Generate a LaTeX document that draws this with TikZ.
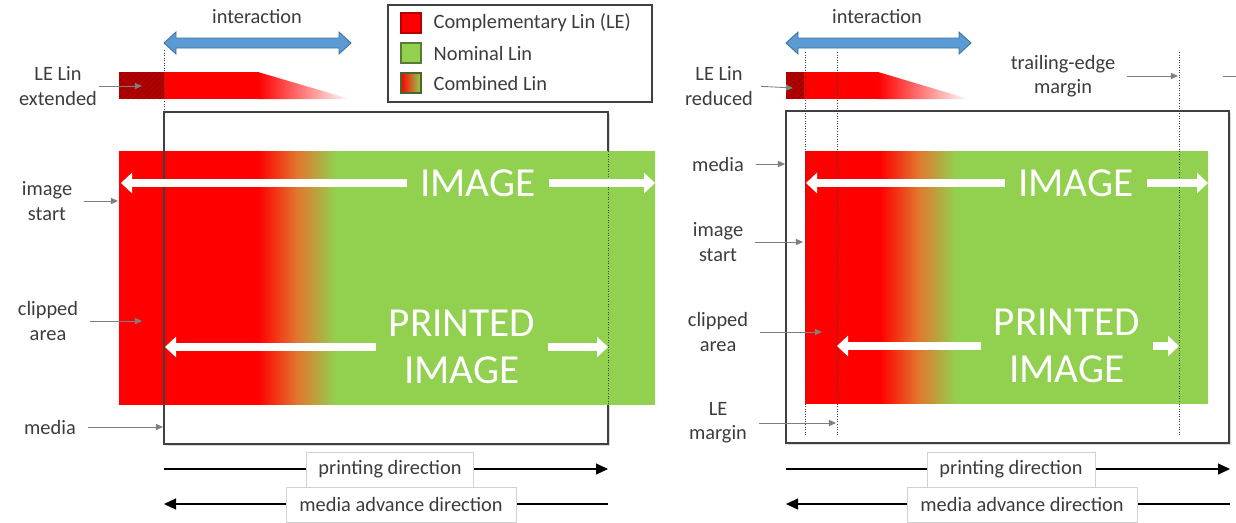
\documentclass[tikz,border=0pt]{standalone}
\usepackage{fontspec}
\setmainfont{Carlito}
\usepackage{xcolor}
\usetikzlibrary{arrows.meta,positioning,patterns,shadows}
\definecolor{imggreen}{RGB}{146,208,80}
\definecolor{midorange}{RGB}{226,118,46}
\definecolor{darkred}{RGB}{180,0,0}
\definecolor{intblue}{RGB}{91,155,213}
\definecolor{intborder}{RGB}{65,113,156}
\definecolor{txtgray}{RGB}{60,60,60}
\definecolor{arrgray}{RGB}{127,127,127}
\definecolor{boxgray}{RGB}{64,64,64}
\definecolor{lightbox}{RGB}{210,210,210}
\newcommand\lblfont{\fontsize{11.6}{13.8}\selectfont}
\newcommand\bigtextfont{\fontsize{23.5}{26.5}\selectfont}
% combined linearization across the image, one shading per panel
\pgfdeclarehorizontalshading{imgextended}{100bp}{color(0bp)=(red); color(37.97bp)=(red); color(41.6bp)=(midorange); color(45.19bp)=(imggreen); color(100bp)=(imggreen)}
\pgfdeclarehorizontalshading{imgreduced}{100bp}{color(0bp)=(red); color(34.31bp)=(red); color(39.02bp)=(midorange); color(43.67bp)=(imggreen); color(100bp)=(imggreen)}
\tikzset{%
	lbl/.style      = {text=txtgray, font=\lblfont, align=center, inner sep=1pt},
	lblarrow/.style = {draw=arrgray, line width=0.5pt, -{Triangle[length=4pt,width=3.5pt]}, shorten <=0.2cm},
	medbox/.style   = {draw=boxgray, line width=0.9pt, fill=white, drop shadow={shadow xshift=0.04cm, shadow yshift=-0.04cm, opacity=0.3}},
	intarrow/.style = {fill=intblue, draw=intborder, line width=0.5pt, line join=miter},
	wharrow/.style  = {white, line width=0.17cm, -{Triangle[length=0.22cm,width=0.4cm]}},
	bigtxt/.style   = {text=white, font=\bigtextfont, align=center, inner xsep=0.25cm, inner ysep=0pt},
	dirbox/.style   = {draw=lightbox, fill=white, text=txtgray, font=\lblfont, minimum height=0.7cm, line width=0.5pt},
	dirarrow/.style = {black, line width=0.6pt, -{Triangle[length=0.24cm,width=0.22cm]}},
	margin/.style   = {draw=boxgray, densely dotted, line width=0.45pt},
	legsq/.style    = {minimum size=0.4cm, inner sep=0pt, line width=0.6pt},
	legtxt/.style   = {text=txtgray, font=\lblfont, inner sep=1pt},
	hatch/.style    = {pattern=north east lines, pattern color=red!55!black},
	combshade/.style= {left color=red, middle color=midorange, right color=imggreen},
}
\begin{document}
\begin{tikzpicture}[x=0.02cm,y=-0.02cm]
	\useasboundingbox (0,0) rectangle (1236,522);
	% ---------------- left: LE Lin extended ----------------
	\node[lbl] (int-l) at (257,17) {interaction};
	\draw[intarrow] (164,43) -- ++(12,-11) -- ++(0,6) -- (339,38) -- ++(0,-6) -- (351,43) -- (339,54) -- ++(0,-6) -- (176,48) -- ++(0,6) -- cycle;
	% extended linearization bar
	\begin{scope}
		\clip (119,72) -- (258,72) -- (350,99) -- (119,99) -- cycle;
		\fill[darkred] (119,72) rectangle (164,99);
		\fill[hatch] (119,72) rectangle (164,99);
		\fill[red] (164,72) rectangle (258.5,99);
		\shade[left color=red, right color=white] (258,70) rectangle (350,101);
	\end{scope}
	% media and image
	\draw[medbox] (164,112) rectangle (608,444);
	\shade[shading=imgextended] (119,151) rectangle (655,404);
	\draw[boxgray, line width=0.6pt] (164,151) -- (164,404);
	\draw[margin] (608,151) -- (608,404);
	\draw[margin] (164,50) -- (164,112);
	% image arrows
	\node[bigtxt] (img-l) at (478,183) {IMAGE};
	\coordinate (img-l-a) at (121,183);
	\coordinate (img-l-b) at (655,183);
	\draw[wharrow] (img-l.west) -- (img-l-a);
	\draw[wharrow] (img-l.east) -- (img-l-b);
	\node[bigtxt] (pimg-l) at (462,347) {PRINTED\\IMAGE};
	\coordinate (pimg-l-a) at (165,347);
	\coordinate (pimg-l-b) at (608,347);
	\draw[wharrow] (pimg-l.west) -- (pimg-l-a);
	\draw[wharrow] (pimg-l.east) -- (pimg-l-b);
	% side labels
	\node[lbl] (leext) at (58,86) {LE Lin\\extended};
	\coordinate (leext-t) at (142,86);
	\draw[lblarrow, shorten <=0pt] (leext.east) -- (leext-t);
	\node[lbl] (imst-l) at (47,201) {image\\start};
	\coordinate (imst-l-t) at (118,201);
	\draw[lblarrow] (imst-l.east) -- (imst-l-t);
	\node[lbl] (clip-l) at (48,321) {clipped\\area};
	\coordinate (clip-l-t) at (142,321);
	\draw[lblarrow] (clip-l.east) -- (clip-l-t);
	\node[lbl] (med-l) at (50,427) {media};
	\coordinate (med-l-t) at (163,427);
	\draw[lblarrow] (med-l.east) -- (med-l-t);
	% directions
	\coordinate (pd-l-s) at (164,469);
	\coordinate (pd-l-e) at (608,469);
	\draw[dirarrow] (pd-l-s) -- (pd-l-e);
	\node[dirbox, minimum width=3.34cm] (pd-l) at (390,469.5) {printing direction};
	\coordinate (ma-l-s) at (608,504);
	\coordinate (ma-l-e) at (164,504);
	\draw[dirarrow] (ma-l-s) -- (ma-l-e);
	\node[dirbox, minimum width=4.6cm] (ma-l) at (401,504.5) {media advance direction};
	% ---------------- legend ----------------
	\draw[boxgray, line width=0.7pt] (388,5) rectangle (652,102);
	\node[legsq, fill=red, draw=darkred] (sq-comp) at (411,23) {};
	\node[legtxt, right=0.2cm of sq-comp] (lg-comp) {Complementary Lin (LE)};
	\node[legsq, fill=imggreen, draw=imggreen!60!black] (sq-nom) at (411,53) {};
	\node[legtxt, right=0.2cm of sq-nom] (lg-nom) {Nominal Lin};
	\node[legsq, combshade, draw=imggreen!50!black] (sq-comb) at (411,83) {};
	\node[legtxt, right=0.2cm of sq-comb] (lg-comb) {Combined Lin};
	% ---------------- right: LE Lin reduced ----------------
	\node[lbl] (int-r) at (877,17) {interaction};
	\draw[intarrow] (786,43) -- ++(12,-11) -- ++(0,6) -- (959,38) -- ++(0,-6) -- (971,43) -- (959,54) -- ++(0,-6) -- (798,48) -- ++(0,6) -- cycle;
	% reduced linearization bar
	\begin{scope}
		\clip (786,72) -- (878,72) -- (969,99) -- (786,99) -- cycle;
		\fill[darkred] (786,72) rectangle (804,99);
		\fill[hatch] (786,72) rectangle (804,99);
		\fill[red] (804,72) rectangle (878.5,99);
		\shade[left color=red, right color=white] (878,70) rectangle (969,101);
	\end{scope}
	% media and image
	\draw[medbox] (786,111) rectangle (1229,443);
	\shade[shading=imgreduced] (805,151) rectangle (1208,403);
	\draw[margin] (805,52) -- (805,436);
	\draw[margin] (837,52) -- (837,436);
	\draw[margin] (1179,52) -- (1179,436);
	% image arrows
	\node[bigtxt] (img-r) at (1076,183) {IMAGE};
	\coordinate (img-r-a) at (806,183);
	\coordinate (img-r-b) at (1208,183);
	\draw[wharrow] (img-r.west) -- (img-r-a);
	\draw[wharrow] (img-r.east) -- (img-r-b);
	\node[bigtxt] (pimg-r) at (1067,346) {PRINTED\\IMAGE};
	\coordinate (pimg-r-a) at (837,346);
	\coordinate (pimg-r-b) at (1179,346);
	\draw[wharrow] (pimg-r.west) -- (pimg-r-a);
	\draw[wharrow] (pimg-r.east) -- (pimg-r-b);
	% side labels
	\node[lbl] (lered) at (719,86) {LE Lin\\reduced};
	\coordinate (lered-t) at (793,88);
	\draw[lblarrow, shorten <=0.12cm] (lered.east) -- (lered-t);
	\node[lbl] (med-r) at (718,164) {media};
	\coordinate (med-r-t) at (785,164);
	\draw[lblarrow] (med-r.east) -- (med-r-t);
	\node[lbl] (imst-r) at (718,242) {image\\start};
	\coordinate (imst-r-t) at (803,242);
	\draw[lblarrow] (imst-r.east) -- (imst-r-t);
	\node[lbl] (clip-r) at (718,332) {clipped\\area};
	\coordinate (clip-r-t) at (822,332);
	\draw[lblarrow] (clip-r.east) -- (clip-r-t);
	\node[lbl] (lemarg) at (718,423) {LE\\margin};
	\coordinate (lemarg-t) at (836,423);
	\draw[lblarrow] (lemarg.east) -- (lemarg-t);
	\node[lbl] (temarg) at (1063,76) {trailing-edge\\margin};
	\coordinate (temarg-t) at (1178,76);
	\draw[lblarrow] (temarg.east) -- (temarg-t);
	\coordinate (stub-a) at (1223,76);
	\coordinate (stub-b) at (1236,76);
	\draw[arrgray, line width=0.5pt] (stub-a) -- (stub-b);
	% directions
	\coordinate (pd-r-s) at (786,469);
	\coordinate (pd-r-e) at (1230,469);
	\draw[dirarrow] (pd-r-s) -- (pd-r-e);
	\node[dirbox, minimum width=3.36cm] (pd-r) at (1011,469.5) {printing direction};
	\coordinate (ma-r-s) at (1230,504);
	\coordinate (ma-r-e) at (786,504);
	\draw[dirarrow] (ma-r-s) -- (ma-r-e);
	\node[dirbox, minimum width=4.6cm] (ma-r) at (1022,504.5) {media advance direction};
\end{tikzpicture}
\end{document}
